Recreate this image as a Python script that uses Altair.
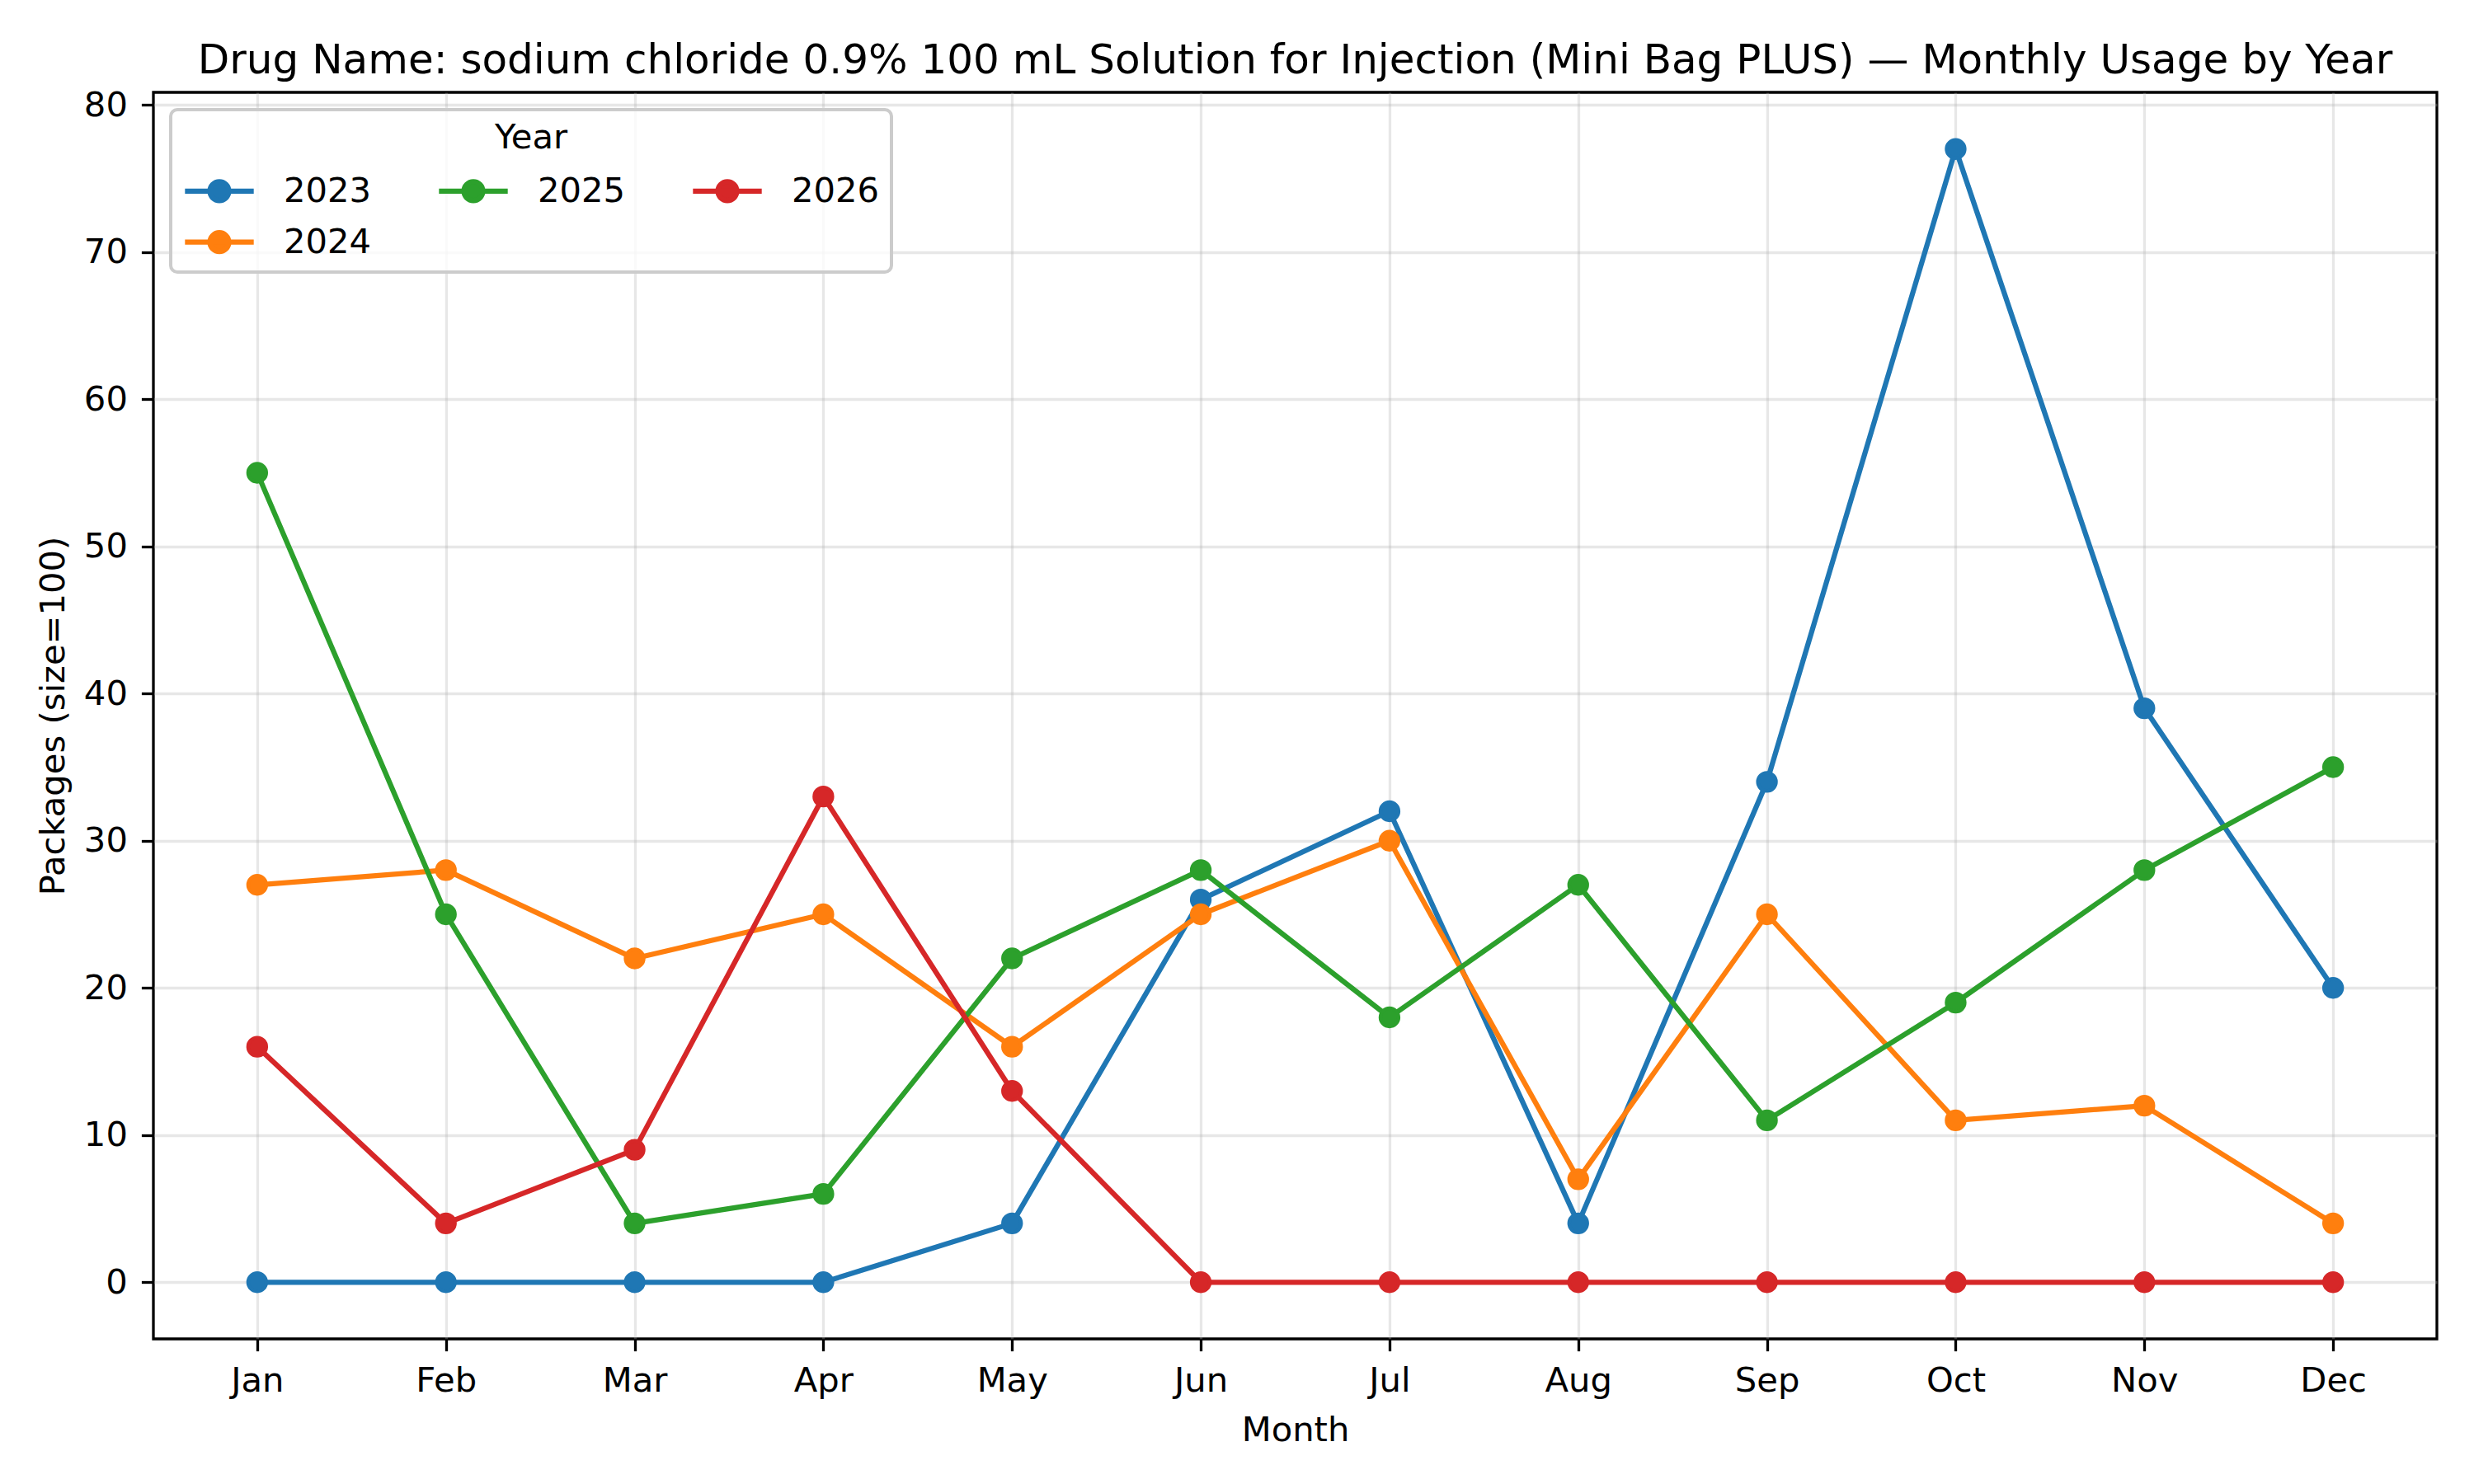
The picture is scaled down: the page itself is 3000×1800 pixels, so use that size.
import json

import altair as alt
import pandas as pd

# Monthly package counts per year
MONTHS = ["Jan", "Feb", "Mar", "Apr", "May", "Jun", "Jul", "Aug", "Sep", "Oct", "Nov", "Dec"]
YEARS = ["2023", "2024", "2025", "2026"]
USAGE_2023 = [0, 0, 0, 0, 4, 26, 32, 4, 34, 77, 39, 20]
USAGE_2024 = [27, 28, 22, 25, 16, 25, 30, 7, 25, 11, 12, 4]
USAGE_2025 = [55, 25, 4, 6, 22, 28, 18, 27, 11, 19, 28, 35]
USAGE_2026 = [16, 4, 9, 33, 13, 0, 0, 0, 0, 0, 0, 0]
Y_TICKS = [0, 10, 20, 30, 40, 50, 60, 70, 80]

YEAR_COLORS = {"2023": "#1f77b4", "2024": "#ff7f0e", "2025": "#2ca02c", "2026": "#d62728"}
# entry order for the three-column legend grid
LEGEND_ORDER = ["2023", "2026", "2025", "2024"]

TITLE = "Drug Name: sodium chloride 0.9% 100 mL Solution for Injection (Mini Bag PLUS) \u2014 Monthly Usage by Year"

series = {"2023": USAGE_2023, "2024": USAGE_2024, "2025": USAGE_2025, "2026": USAGE_2026}
rows = []
for yr in YEARS:
    for i, v in enumerate(series[yr]):
        rows.append({"year": yr, "month_idx": i, "month": MONTHS[i], "packages": v})
df = pd.DataFrame(rows)

FONT = "DejaVu Sans"
FS = 41.7          # 10 pt at 300 dpi
LW = 6.25          # 1.5 pt line
THIN = 3.3         # 0.8 pt

# legend handle: short line with a filled dot in the middle
HANDLE = ("M-1,0L1,0M0.275,0A0.275,0.275,0,1,1,-0.275,0"
          "A0.275,0.275,0,1,1,0.275,0Z")

color_scale = alt.Scale(domain=LEGEND_ORDER, range=[YEAR_COLORS[y] for y in LEGEND_ORDER])
legend = alt.Legend(
    title="Year", orient="none", legendX=21, legendY=21, columns=3,
    symbolType=HANDLE, symbolSize=6955, symbolStrokeWidth=LW, symbolOpacity=1,
    labelFont=FONT, labelFontSize=FS, labelColor="black", labelOffset=33,
    titleFont=FONT, titleFontSize=FS, titleFontWeight="normal", titleColor="black",
    titleAnchor="middle", titlePadding=22, padding=14, rowPadding=19,
    columnPadding=78, clipHeight=42, fillColor="rgba(255,255,255,0.8)",
    strokeColor="#cccccc", cornerRadius=8, labelLimit=0,
)

month_labels = "%s[datum.value]" % json.dumps(MONTHS)

x_enc = alt.X(
    "month_idx:Q",
    scale=alt.Scale(domain=[-0.55, 11.55], nice=False, zero=False),
    axis=alt.Axis(
        values=list(range(len(MONTHS))), labelExpr=month_labels, title="Month",
        titleY=123, titleBaseline="alphabetic",
        labelPadding=16,
    ),
)
y_enc = alt.Y(
    "packages:Q",
    scale=alt.Scale(domain=[-3.85, 80.85], nice=False, zero=False),
    axis=alt.Axis(
        values=Y_TICKS, title="Packages (size=100)",
        titleX=-109, titleBaseline="alphabetic",
        labelPadding=17,
    ),
)
stroke_enc = alt.Stroke("year:N", scale=color_scale, legend=legend)
fill_enc = alt.Fill("year:N", scale=color_scale, legend=legend)

base = alt.Chart().encode(x=x_enc, y=y_enc)

layers = []
for yr in YEARS:
    sub = base.transform_filter(alt.datum.year == yr)
    layers.append(
        sub.mark_line(strokeWidth=LW, strokeCap="square", strokeJoin="round")
        .encode(stroke=stroke_enc)
    )
    layers.append(
        sub.mark_point(filled=True, shape="circle", size=491, strokeWidth=4.2, opacity=1)
        .encode(fill=fill_enc, stroke=stroke_enc)
    )

chart = (
    alt.layer(*layers, data=df)
    .properties(
        width=2769,
        height=1512,
        autosize=alt.AutoSizeParams(type="none"),
        padding={"left": 186, "top": 112, "right": 45, "bottom": 176},
        title=alt.TitleParams(
            TITLE, font=FONT, fontSize=50, fontWeight="normal", color="black",
            anchor="middle", baseline="alphabetic", offset=25, dy=57,
        ),
    )
    .configure(background="white")
    .configure_view(stroke="black", strokeWidth=THIN)
    .configure_axis(
        grid=True, gridColor="#b0b0b0", gridOpacity=0.3, gridWidth=THIN,
        domain=False, ticks=True, tickSize=14.6, tickWidth=THIN, tickColor="black",
        labelFont=FONT, labelFontSize=FS, labelColor="black",
        labelFlush=False, labelOverlap=False,
        titleFont=FONT, titleFontSize=FS, titleFontWeight="normal", titleColor="black",
    )
    .configure_legend(strokeWidth=4)
)

chart.save("out.html", embed_options={"renderer": "svg", "actions": False})
